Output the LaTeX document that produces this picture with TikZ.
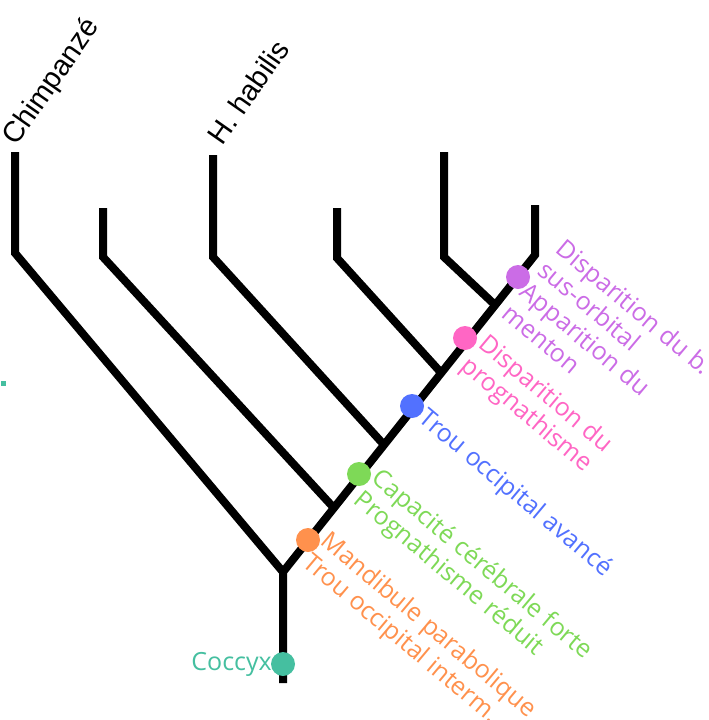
\documentclass[tikz,border=0pt]{standalone}
\usepackage{fontspec}
\usetikzlibrary{calc}
\setmainfont{Liberation Sans}
\newfontfamily\labfont{Open Sans}
\definecolor{cteal}{HTML}{45BFA0}
\definecolor{corange}{HTML}{FF914D}
\definecolor{cgreen}{HTML}{7ED957}
\definecolor{cblue}{HTML}{5271FF}
\definecolor{cpink}{HTML}{FF66C4}
\definecolor{cpurple}{HTML}{CB6CE6}
\begin{document}
\begin{tikzpicture}[x=1pt,y=-1pt,
  branch/.style={line width=8pt, line join=miter},
  dotnode/.style={circle, fill=#1, minimum size=24pt, inner sep=0pt},
  labfontstyle/.style={text=#1, font=\labfont\fontsize{25}{28}\selectfont, inner sep=0pt},
  lab/.style={labfontstyle=#1, rotate=-40, anchor=north west, align=left},
  taxon/.style={font=\fontsize{29}{34}\selectfont, rotate=55, anchor=base west, inner sep=0pt}]
\useasboundingbox (0,0) rectangle (709,720);
% skeleton
\coordinate (root) at (283,683);
\coordinate (n0) at (283,572);
\coordinate (tip) at (535,255);
\coordinate (tipTop) at (535,205);
\coordinate (j1) at ($(n0)!0.202!(tip)$);
\coordinate (j2) at ($(n0)!0.401!(tip)$);
\coordinate (j3) at ($(n0)!0.628!(tip)$);
\coordinate (j4) at ($(n0)!0.842!(tip)$);
\coordinate (b0) at (15,253);  \coordinate (t0) at (15,152);
\coordinate (b1) at (103,257); \coordinate (t1) at (103,208);
\coordinate (b2) at (213,257); \coordinate (t2) at (213,155);
\coordinate (b3) at (337,258); \coordinate (t3) at (337,208);
\coordinate (b4) at (444,257); \coordinate (t4) at (444,152);
\draw[branch] (root) -- (n0) -- (tip) -- (tipTop);
\draw[branch] (n0) -- (b0) -- (t0);
\draw[branch] (j1) -- (b1) -- (t1);
\draw[branch] (j2) -- (b2) -- (t2);
\draw[branch] (j3) -- (b3) -- (t3);
\draw[branch] (j4) -- (b4) -- (t4);
% taxa
\node[taxon] (chimp) at (16,147) {Chimpanzé};
\node[taxon] (habilis) at (222,147) {H. habilis};
% dots
\node[dotnode=cteal] (dTeal) at (283,664) {};
\node[dotnode=corange] (dOrange) at (308,540) {};
\node[dotnode=cgreen] (dGreen) at (359,474) {};
\node[dotnode=cblue] (dBlue) at (412,406) {};
\node[dotnode=cpink] (dPink) at (465,338) {};
\node[dotnode=cpurple] (dPurple) at (518,277) {};
% labels
\node[labfontstyle=cteal, anchor=east] (lTeal) at (272,664) {Coccyx};
\node[lab=corange] (lOrange) at (332,529) {Mandibule parabolique\\Trou occipital interm.};
\node[lab=cgreen] (lGreen) at (383,466) {Capacité cérébrale forte\\Prognathisme réduit};
\node[lab=cblue] (lBlue) at (430,406) {Trou occipital avancé};
\node[lab=cpink] (lPink) at (490,332) {Disparition du\\prognathisme};
\node[lab=cpurple] (lPurple) at (567,237) {Disparition du b.\\sus-orbital\\Apparition du\\menton};
\fill[cteal] (1,381) rectangle (6,386);
\end{tikzpicture}
\end{document}
